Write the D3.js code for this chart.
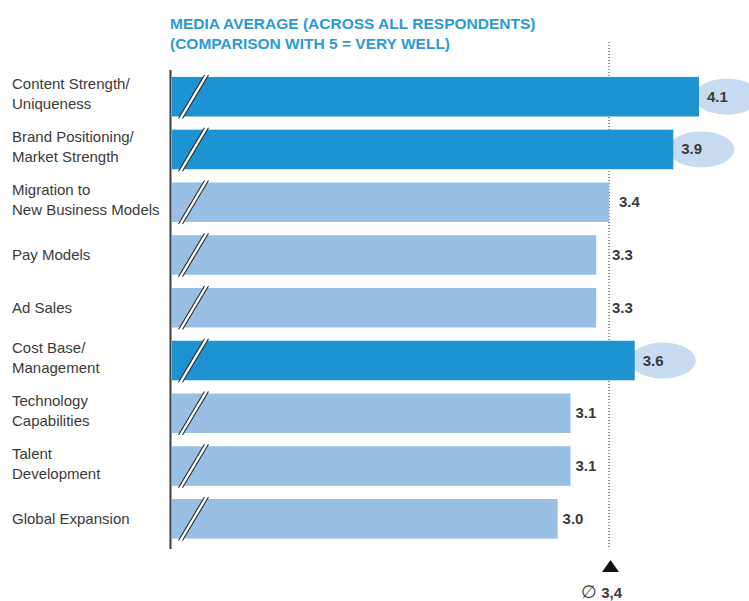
<!DOCTYPE html>
<html>
<head>
<meta charset="utf-8">
<script src="https://cdn.jsdelivr.net/npm/d3@7.9.0/dist/d3.min.js"></script>
<style>
  html, body { margin: 0; padding: 0; background: #fff; }
  svg { display: block; font-family: "Liberation Sans", Arial, Helvetica, sans-serif; }
</style>
</head>
<body>
<svg id="chart" width="749" height="601"></svg>
<script>
// chart data
const categories = [
  ['Content Strength/', 'Uniqueness'],
  ['Brand Positioning/', 'Market Strength'],
  ['Migration to', 'New Business Models'],
  ['Pay Models'],
  ['Ad Sales'],
  ['Cost Base/', 'Management'],
  ['Technology', 'Capabilities'],
  ['Talent', 'Development'],
  ['Global Expansion']
];
const values = [4.1, 3.9, 3.4, 3.3, 3.3, 3.6, 3.1, 3.1, 3.0];
const highlighted = [true, true, false, false, false, true, false, false, false];
const average = 3.4;
const averageLabel = '3,4';
const titleLines = ['MEDIA AVERAGE (ACROSS ALL RESPONDENTS)', '(COMPARISON WITH 5 = VERY WELL)'];

const darkBlue = '#1e93d1';
const lightBlue = '#99bfe4';
const bubble = '#c7dcf0';
const textCol = '#3a3a3a';

const svg = d3.select('#chart');

const x = d3.scaleLinear().domain([0, 4.1]).range([172, 699]);
const y = d3.scaleBand()
  .domain(d3.range(values.length))
  .range([69, 546.5])
  .paddingInner(0.25)
  .paddingOuter(0.15);

// title
svg.append('g')
  .selectAll('text')
  .data(titleLines)
  .enter()
  .append('text')
  .attr('x', 170)
  .attr('y', (d, i) => 29 + i * 20)
  .attr('fill', '#2a9ad7')
  .attr('font-size', 15.5)
  .attr('font-weight', 'bold')
  .text(d => d);

// average reference line
const refX = x(average);
svg.append('line')
  .attr('x1', refX).attr('x2', refX)
  .attr('y1', 42).attr('y2', 548)
  .attr('stroke', '#222')
  .attr('stroke-width', 1)
  .attr('stroke-dasharray', '1,2');

const rows = svg.append('g')
  .selectAll('g')
  .data(values)
  .enter()
  .append('g');

rows.each(function (d, i) {
  const g = d3.select(this);
  const top = y(i);
  const h = y.bandwidth();
  const cy = top + h / 2;
  const end = x(d);

  // bubble behind the highlighted values
  if (highlighted[i]) {
    g.append('ellipse')
      .attr('cx', end + 28)
      .attr('cy', cy)
      .attr('rx', 33)
      .attr('ry', 18)
      .attr('fill', bubble);
  }

  g.append('rect')
    .attr('x', x(0))
    .attr('y', top)
    .attr('width', end - x(0))
    .attr('height', h)
    .attr('fill', highlighted[i] ? darkBlue : lightBlue);

  // axis break mark
  const bx = 178.5;
  const y0 = top + h + 2, y1 = top - 2;
  g.append('line')
    .attr('x1', bx + 2).attr('y1', y0)
    .attr('x2', bx + 28).attr('y2', y1)
    .attr('stroke', '#fff').attr('stroke-width', 3);
  [0, 4].forEach(off => {
    g.append('line')
      .attr('x1', bx + off).attr('y1', y0)
      .attr('x2', bx + 26 + off).attr('y2', y1)
      .attr('stroke', '#2b2b2b').attr('stroke-width', 1.1);
  });

  // value label, kept clear of the dotted average line
  let lx;
  if (highlighted[i]) lx = end + 8;
  else if (Math.abs(end - refX) < 3) lx = refX + 10;
  else if (end + 30 > refX && end < refX) lx = refX + 3;
  else lx = end + 5;
  g.append('text')
    .attr('x', lx)
    .attr('y', cy + 5)
    .attr('fill', textCol)
    .attr('font-size', 15)
    .attr('font-weight', 'bold')
    .text(d3.format('.1f')(d));

  // category label
  const lines = categories[i];
  const startY = lines.length === 1 ? cy + 5 : cy - 7.5;
  lines.forEach((t, k) => {
    g.append('text')
      .attr('x', 12)
      .attr('y', startY + k * 20)
      .attr('fill', textCol)
      .attr('font-size', 15)
      .text(t);
  });
});

// vertical axis line
svg.append('line')
  .attr('x1', 170.5).attr('x2', 170.5)
  .attr('y1', 70).attr('y2', 549)
  .attr('stroke', '#3c3c3c')
  .attr('stroke-width', 2);

// average marker
const tx = refX + 1.5;
svg.append('path')
  .attr('d', d3.line()([[tx - 8.5, 572], [tx, 560], [tx + 8.5, 572]]) + 'Z')
  .attr('fill', '#111');

const avgText = svg.append('text')
  .attr('x', tx - 9)
  .attr('y', 598)
  .attr('text-anchor', 'middle')
  .attr('fill', textCol)
  .attr('font-size', 15);
avgText.append('tspan').attr('font-size', 18).text('\u2205');
avgText.append('tspan').attr('font-weight', 'bold').text(' ' + averageLabel);
</script>
</body>
</html>
